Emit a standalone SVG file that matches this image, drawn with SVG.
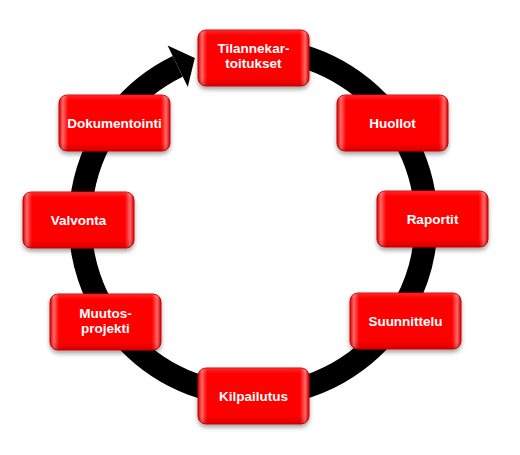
<svg xmlns="http://www.w3.org/2000/svg" width="520" height="455" viewBox="0 0 520 455">
<style>
.box{fill:url(#gh);stroke:#d00000;stroke-width:1;filter:url(#sh)}
.ov{fill:url(#gv);pointer-events:none}
.t{font-family:"Liberation Sans",Arial,sans-serif;font-weight:bold;font-size:13.5px;fill:#fff;text-anchor:middle}
</style>
<defs>
<linearGradient id="gh" x1="0" y1="0" x2="1" y2="0">
<stop offset="0" stop-color="#d40000"/>
<stop offset="0.035" stop-color="#ff6a6a"/>
<stop offset="0.08" stop-color="#ff0000"/>
<stop offset="0.92" stop-color="#ff0000"/>
<stop offset="0.965" stop-color="#ff6a6a"/>
<stop offset="1" stop-color="#d40000"/>
</linearGradient>
<linearGradient id="gv" x1="0" y1="0" x2="0" y2="1">
<stop offset="0" stop-color="#ffffff" stop-opacity="0.15"/>
<stop offset="0.1" stop-color="#ffffff" stop-opacity="0"/>
<stop offset="0.85" stop-color="#800000" stop-opacity="0"/>
<stop offset="1" stop-color="#800000" stop-opacity="0.3"/>
</linearGradient>
<filter id="sh" x="-10%" y="-10%" width="120%" height="140%">
<feDropShadow dx="0" dy="3" stdDeviation="2" flood-color="#000" flood-opacity="0.35"/>
</filter>
</defs>
<g id="connectors">
<path d="M283 51.6 A173 173 0 1 1 177.7 66.3" fill="none" stroke="#000" stroke-width="23"/>
<polygon points="167.6,45.5 194.8,58.1 187.8,87.1" fill="#000"/>
</g>
<g id="n1"><rect class="box" x="198" y="30" width="111" height="56" rx="8"/><rect class="ov" x="198" y="30" width="111" height="56" rx="8"/>
<text class="t" x="253.5" y="53">Tilannekar-</text><text class="t" x="253.5" y="68">toitukset</text></g>
<g id="n2"><rect class="box" x="337" y="95" width="111" height="56" rx="8"/><rect class="ov" x="337" y="95" width="111" height="56" rx="8"/>
<text class="t" x="392.5" y="127.5">Huollot</text></g>
<g id="n3"><rect class="box" x="377" y="191" width="111" height="56" rx="8"/><rect class="ov" x="377" y="191" width="111" height="56" rx="8"/>
<text class="t" x="432.5" y="223.5">Raportit</text></g>
<g id="n4"><rect class="box" x="350" y="293" width="111" height="56" rx="8"/><rect class="ov" x="350" y="293" width="111" height="56" rx="8"/>
<text class="t" x="405.5" y="325.5">Suunnittelu</text></g>
<g id="n5"><rect class="box" x="198" y="368" width="111" height="56" rx="8"/><rect class="ov" x="198" y="368" width="111" height="56" rx="8"/>
<text class="t" x="253.5" y="400.5">Kilpailutus</text></g>
<g id="n6"><rect class="box" x="50" y="294" width="111" height="56" rx="8"/><rect class="ov" x="50" y="294" width="111" height="56" rx="8"/>
<text class="t" x="105.5" y="318">Muutos-</text><text class="t" x="105.5" y="333">projekti</text></g>
<g id="n7"><rect class="box" x="23" y="192" width="111" height="56" rx="8"/><rect class="ov" x="23" y="192" width="111" height="56" rx="8"/>
<text class="t" x="78.5" y="224.5">Valvonta</text></g>
<g id="n8"><rect class="box" x="59" y="95" width="111" height="56" rx="8"/><rect class="ov" x="59" y="95" width="111" height="56" rx="8"/>
<text class="t" x="114.5" y="127.5">Dokumentointi</text></g>
</svg>
